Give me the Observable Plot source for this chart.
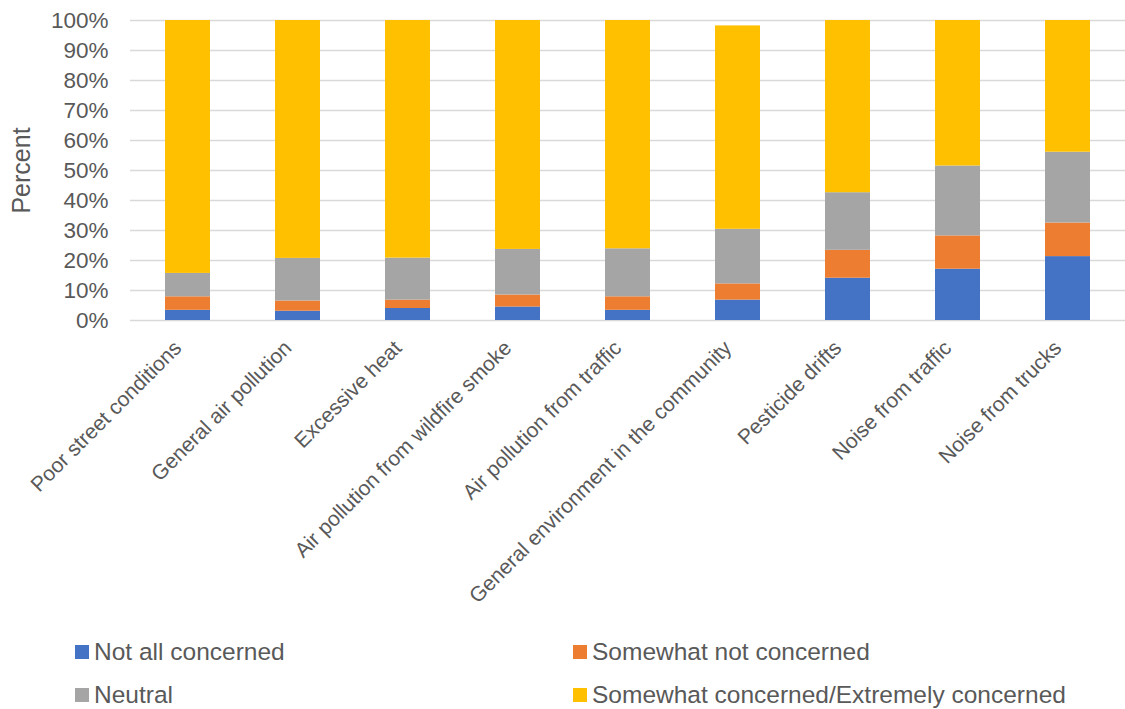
<!DOCTYPE html>
<html>
<head>
<meta charset="utf-8">
<script src="https://cdn.jsdelivr.net/npm/d3@7"></script>
<script src="https://cdn.jsdelivr.net/npm/@observablehq/plot@0.6"></script>
<style>
  body { margin: 0; background: #fff; font-family: "Liberation Sans", Arial, sans-serif; color: #595959; }
  #chart { position: relative; width: 1125px; height: 709px; }
  .legend { position: absolute; left: 0; top: 620px; width: 1125px; height: 89px; }
  .item { position: absolute; display: flex; align-items: center; font-size: 24.5px; white-space: nowrap; }
  .sw { width: 14px; height: 14px; margin-right: 5px; }
</style>
</head>
<body>
<div id="chart"></div>
<script>
const categories = [
  "Poor street conditions",
  "General air pollution",
  "Excessive heat",
  "Air pollution from wildfire smoke",
  "Air pollution from traffic",
  "General environment in the community",
  "Pesticide drifts",
  "Noise from traffic",
  "Noise from trucks"
];
const seriesNames = [
  "Not all concerned",
  "Somewhat not concerned",
  "Neutral",
  "Somewhat concerned/Extremely concerned"
];
const seriesColors = ["#4472C4", "#ED7D31", "#A5A5A5", "#FFC000"];
const notAllConcerned       = [3.4, 3.1, 4.0, 4.5, 3.4, 6.8, 14.1, 17.1, 21.3];
const somewhatNotConcerned  = [4.5, 3.4, 2.8, 4.0, 4.5, 5.4, 9.3, 11.1, 11.2];
const neutral               = [7.8, 14.2, 14.0, 15.2, 16.0, 18.2, 19.2, 23.3, 23.6];
const somewhatExtremely     = [84.3, 79.3, 79.2, 76.3, 76.1, 67.8, 57.4, 48.5, 43.9];
const yTicks = [0, 10, 20, 30, 40, 50, 60, 70, 80, 90, 100];

const seriesValues = [notAllConcerned, somewhatNotConcerned, neutral, somewhatExtremely];
const data = [];
seriesNames.forEach((s, si) => {
  categories.forEach((c, ci) => {
    data.push({category: c, series: s, value: seriesValues[si][ci] / 100});
  });
});

const chart = Plot.plot({
  width: 1125,
  height: 620,
  marginLeft: 130,
  marginRight: 0,
  marginTop: 20,
  marginBottom: 300,
  style: { fontFamily: '"Liberation Sans", Arial, sans-serif', color: "#595959", background: "white" },
  x: { domain: categories, paddingInner: 0.594, paddingOuter: 0.29, label: null },
  y: { domain: [0, 1], label: null },
  color: { domain: seriesNames, range: seriesColors },
  marks: [
    Plot.gridY(yTicks.map(d => d / 100), { stroke: "#d9d9d9", strokeOpacity: 1, strokeWidth: 1.5 }),
    Plot.barY(data, { x: "category", y: "value", fill: "series", order: null }),
    Plot.axisY(yTicks.map(d => d / 100), {
      tickFormat: d3.format(".0%"), tickSize: 0, tickPadding: 22, fontSize: 22.5,
      label: "Percent", labelAnchor: "center", labelOffset: 118, labelArrow: "none"
    }),
    Plot.axisX({ tickRotate: -45, tickSize: 0, tickPadding: 24, dx: -10, fontSize: 21, label: null })
  ]
});
document.getElementById("chart").appendChild(chart);
chart.querySelectorAll("text").forEach(t => t.setAttribute("fill", "#595959"));
const lbl = [...chart.querySelectorAll("g[aria-label='y-axis label'] text")];
lbl.forEach(t => t.style.fontSize = "25px");

const legend = document.createElement("div");
legend.className = "legend";
const pos = [[75, 33], [573, 33], [75, 76], [573, 76]];
seriesNames.forEach((s, i) => {
  const it = document.createElement("div");
  it.className = "item";
  it.style.left = pos[i][0] + "px";
  it.style.top = (pos[i][1] - 15) + "px";
  it.innerHTML = `<span class="sw" style="background:${seriesColors[i]}"></span><span>${s}</span>`;
  legend.appendChild(it);
});
document.getElementById("chart").appendChild(legend);
</script>
</body>
</html>
